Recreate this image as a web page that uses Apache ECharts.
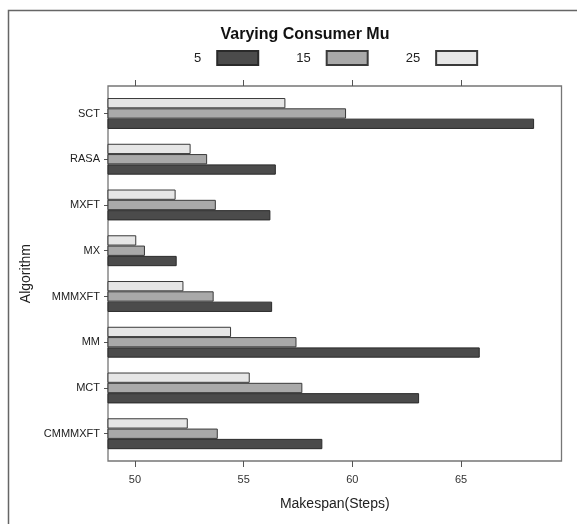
<!DOCTYPE html>
<html>
<head>
<meta charset="utf-8">
<script src="https://cdn.jsdelivr.net/npm/echarts@6/dist/echarts.min.js"></script>
<style>
  html, body { margin: 0; padding: 0; background: #fff; }
  #chart { width: 577px; height: 524px; }
</style>
</head>
<body>
<div id="chart"></div>
<script>
// Algorithms on the vertical axis (bottom to top)
const categories = ['CMMMXFT', 'MCT', 'MM', 'MMMXFT', 'MX', 'MXFT', 'RASA', 'SCT'];
// Makespan for each consumer mu setting
const mu5  = [58.62, 63.07, 65.86, 56.31, 51.92, 56.23, 56.48, 68.36];
const mu15 = [53.81, 57.70, 57.43, 53.62, 50.46, 53.72, 53.32, 59.71];
const mu25 = [52.43, 55.28, 54.42, 52.23, 50.06, 51.87, 52.56, 56.92];
const seriesNames = ['5', '15', '25'];
const xTicks = [50, 55, 60, 65];

const X_MIN = 48.76, X_MAX = 69.62;
const FONT = 'Liberation Sans, Arial, sans-serif';
const fills = { '5': '#4b4b4b', '15': '#a9a9a9', '25': '#e6e6e6' };
const edges = { '5': '#2a2a2a', '15': '#3a3a3a', '25': '#3a3a3a' };

const chart = echarts.init(document.getElementById('chart'), null, { renderer: 'canvas' });

function barSeries(name, data) {
  return {
    name: name,
    type: 'bar',
    xAxisIndex: 0,
    yAxisIndex: 0,
    data: data,
    barWidth: 10.3,
    barGap: '0%',
    clip: true,
    itemStyle: { color: fills[name], borderColor: edges[name], borderWidth: 1 },
    emphasis: { disabled: true },
    animation: false
  };
}

chart.setOption({
  animation: false,
  textStyle: { fontFamily: FONT },
  title: {
    text: 'Varying Consumer Mu',
    left: 300, textAlign: 'center', top: 22,
    textStyle: { fontFamily: FONT, fontSize: 16, fontWeight: 'bold', color: '#111' }
  },
  legend: {
    data: seriesNames,
    left: 189, top: 45,
    align: 'right',
    icon: 'rect',
    itemWidth: 41, itemHeight: 14,
    itemGap: 37,
    selectedMode: false,
    textStyle: { fontFamily: FONT, fontSize: 13, color: '#222', padding: [0, 11, 0, 0] }
  },
  graphic: [{
    type: 'rect',
    shape: { x: 8.5, y: 10.5, width: 800, height: 800 },
    style: { fill: 'none', stroke: '#666', lineWidth: 1.5 },
    silent: true, z: 0
  }],
  grid: [
    { left: 108, right: 15.5, top: 90.6, height: 366, containLabel: false },
    { left: 108, right: 15.5, top: 86, bottom: 63, show: true, borderColor: '#767676', borderWidth: 1.3, backgroundColor: 'transparent' }
  ],
  xAxis: [
    { gridIndex: 0, type: 'value', min: X_MIN, max: X_MAX, show: false },
    {
      gridIndex: 1, type: 'value', min: X_MIN, max: X_MAX, position: 'bottom',
      name: 'Makespan(Steps)', nameLocation: 'middle', nameGap: 36,
      nameTextStyle: { fontFamily: FONT, fontSize: 14, color: '#222' },
      axisLine: { show: false },
      splitLine: { show: false },
      axisTick: { show: true, customValues: xTicks, length: 6, lineStyle: { color: '#555' } },
      axisLabel: { show: true, customValues: xTicks, margin: 13, fontSize: 11, color: '#333', fontFamily: FONT }
    },
    {
      gridIndex: 1, type: 'value', min: X_MIN, max: X_MAX, position: 'top',
      axisLine: { show: false },
      splitLine: { show: false },
      axisTick: { show: true, customValues: xTicks, length: 6, lineStyle: { color: '#555' } },
      axisLabel: { show: false }
    }
  ],
  yAxis: [
    {
      gridIndex: 0, type: 'category', data: categories,
      name: 'Algorithm', nameLocation: 'middle', nameGap: 66,
      nameTextStyle: { fontFamily: FONT, fontSize: 14, color: '#222' },
      axisLine: { show: false },
      axisTick: { show: true, alignWithLabel: true, length: 4, lineStyle: { color: '#555' } },
      axisLabel: { margin: 8, fontSize: 11, color: '#222', fontFamily: FONT },
      splitLine: { show: false }
    },
    { gridIndex: 1, type: 'value', show: false, min: 0, max: 1 }
  ],
  // first series sits at the top of each group
  series: [barSeries('25', mu25), barSeries('15', mu15), barSeries('5', mu5)]
});
</script>
</body>
</html>
